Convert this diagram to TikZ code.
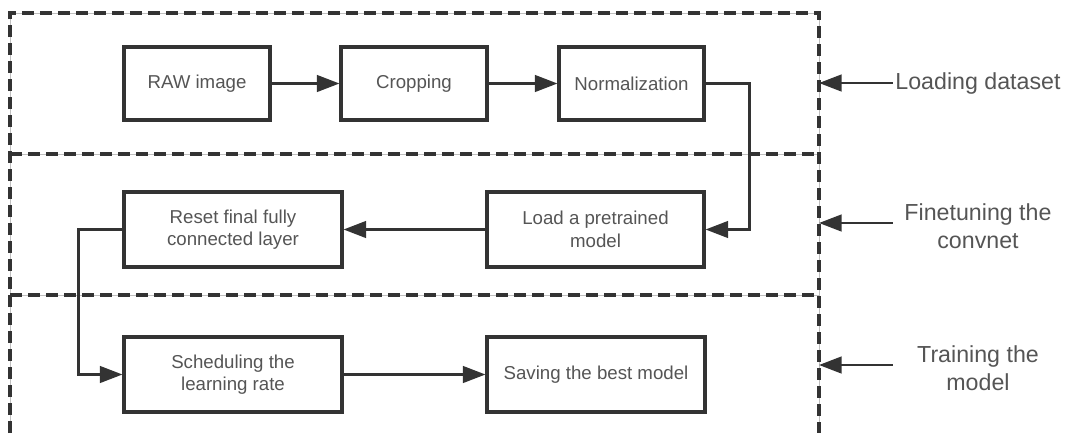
\documentclass[tikz,border=0pt]{standalone}
\usepackage{fontspec}
\setmainfont{Liberation Sans}
\usetikzlibrary{arrows.meta}
\definecolor{linec}{HTML}{333333}
\definecolor{textc}{HTML}{555555}
\begin{document}
\begin{tikzpicture}[x=0.75pt,y=-0.75pt,
  stepbox/.style={draw=linec,line width=2.3pt,fill=white,text=textc,align=center,
    font=\fontsize{14}{17}\selectfont,inner sep=0pt},
  conn/.style={draw=linec,line width=1.9pt,-{Triangle[length=17pt,width=12.5pt]}},
  dashline/.style={draw=linec,line width=2.4pt,dash pattern=on 9pt off 4.5pt},
  guide/.style={draw=black!25,line width=0.6pt},
  lab/.style={text=textc,align=center,font=\fontsize{17.4}{21}\selectfont,
    minimum width=127.5pt,inner sep=0pt}]
\useasboundingbox (0,0) rectangle (1071,433);
% guide lines under dashes
\draw[guide] (10,433) -- (10,13) -- (819,13) -- (819,433);
\draw[guide] (10,154) -- (819,154);
\draw[guide] (10,295) -- (819,295);
% dashed section borders
\draw[dashline] (10,433) -- (10,13) -- (819,13) -- (819,433);
\draw[dashline] (10,154) -- (819,154);
\draw[dashline] (10,295) -- (819,295);
% boxes
\node[stepbox,minimum width=109.5pt,minimum height=54.75pt] (raw) at (197,83.5) {RAW image};
\node[stepbox,minimum width=109.5pt,minimum height=54.75pt] (crop) at (414,83.5) {Cropping};
\node[stepbox,minimum width=108.75pt,minimum height=54.75pt] (norm) at (631.5,83.5) {Normalization};
\node[stepbox,minimum width=162.75pt,minimum height=56.25pt] (load) at (595.5,229.5) {Load a pretrained\\model};
\node[stepbox,minimum width=163.5pt,minimum height=56.25pt] (reset) at (233,229.5) {Reset final fully\\connected layer};
\node[stepbox,minimum width=163.5pt,minimum height=56.25pt] (sched) at (233,374.5) {Scheduling the\\learning rate};
\node[stepbox,minimum width=163.5pt,minimum height=56.25pt] (save) at (596,374.5) {Saving the best model};
% connectors
\draw[conn] (raw) -- (crop);
\draw[conn] (crop) -- (norm);
\draw[conn] (norm.east) -- ++(44,0) |- (load.east);
\draw[conn] (load) -- (reset);
\draw[conn] (reset.west) -- ++(-44,0) |- (sched.west);
\draw[conn] (sched) -- (save);
% right labels
\node[lab] (l1) at (978,83) {Loading dataset};
\node[lab] (l2) at (978,226) {Finetuning the\\convnet};
\node[lab] (l3) at (978,368) {Training the\\model};
\coordinate (d1) at (819,83);
\coordinate (d2) at (819,223);
\coordinate (d3) at (819,365);
\draw[conn] (l1.west) -- (d1);
\draw[conn] (l2.west |- d2) -- (d2);
\draw[conn] (l3.west |- d3) -- (d3);
\end{tikzpicture}
\end{document}
